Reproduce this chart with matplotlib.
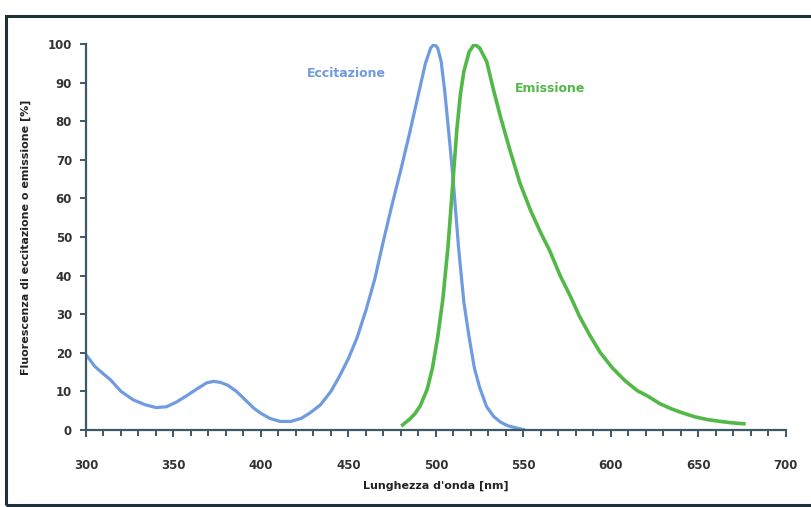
import matplotlib.pyplot as plt
from matplotlib.patches import Rectangle
from matplotlib.ticker import MultipleLocator

# wavelengths (nm) and intensity (%)
exc_nm = [300, 305, 310, 314, 320, 327, 334, 340, 346, 352, 358, 364, 369, 373,
          377, 381, 386, 391, 396, 400, 405, 411, 417, 423, 428, 434, 440, 445,
          450, 455, 460, 465, 470, 475, 480, 485, 490, 494, 497, 499, 501, 503,
          505, 508, 510, 513, 516, 519, 522, 525, 529, 533, 537, 541, 546, 550]
exc_val = [19.5, 16.5, 14.5, 13.0, 10.0, 7.8, 6.5, 5.8, 6.0, 7.3, 9.0, 10.8, 12.2, 12.6,
           12.3, 11.6, 10.0, 7.8, 5.6, 4.3, 3.0, 2.2, 2.2, 3.0, 4.4, 6.5, 10.0, 14.0,
           18.5, 24.0, 31.0, 39.0, 49.0, 58.5, 67.5, 77.0, 87.0, 95.0, 99.0, 100.0, 99.0, 95.5,
           88.0, 74.0, 64.0, 47.0, 33.0, 24.0, 16.0, 11.0, 6.0, 3.5, 2.0, 1.1, 0.5, 0.1]

emi_nm = [481, 485, 488, 491, 495, 498, 501, 504, 507, 510, 512, 514, 516, 519, 522, 525,
          529, 533, 537, 542, 548, 554, 560, 565, 571, 577, 582, 588, 594, 601,
          608, 615, 621, 628, 635, 641, 648, 655, 661, 668, 676]
emi_val = [1.3, 2.8, 4.2, 6.2, 10.5, 16.0, 24.0, 34.0, 48.0, 66.0, 78.0, 87.0, 93.0, 98.0,
           100.0, 99.0, 95.5, 88.0, 81.0, 73.0, 64.0, 57.0, 51.0, 46.5, 40.0, 34.5, 29.5,
           24.5, 20.0, 16.0, 12.8, 10.2, 8.8, 6.8, 5.4, 4.4, 3.4, 2.7, 2.3, 1.9, 1.6]

x_ticks = [300, 350, 400, 450, 500, 550, 600, 650, 700]
y_ticks = [0, 10, 20, 30, 40, 50, 60, 70, 80, 90, 100]

blue = "#6f9be0"
green = "#52b848"
axis_col = "#3c5a66"

fig = plt.figure(figsize=(8.11, 5.07), dpi=100)
fig.patches.append(Rectangle((0.008, 0.004), 0.995, 0.964, transform=fig.transFigure,
                             fill=False, edgecolor="#1f3038", linewidth=2.2))

ax = fig.add_axes([0.106, 0.152, 0.863, 0.761])
ax.plot(exc_nm, exc_val, color=blue, lw=2.3)
ax.plot(emi_nm, emi_val, color=green, lw=2.6)

ax.set_xlim(300, 700)
ax.set_ylim(0, 100)
ax.set_xticks(x_ticks)
ax.set_yticks(y_ticks)
ax.xaxis.set_minor_locator(MultipleLocator(10))

for s in ["top", "right"]:
    ax.spines[s].set_visible(False)
for s in ["left", "bottom"]:
    ax.spines[s].set_color(axis_col)
    ax.spines[s].set_linewidth(1.6)

ax.tick_params(axis="x", which="major", direction="out", length=5, width=1.4,
               color=axis_col, pad=16, labelsize=8.5)
ax.tick_params(axis="x", which="minor", direction="out", length=4, width=1.4,
               color=axis_col)
ax.tick_params(axis="y", direction="out", length=4, width=1.4, color=axis_col,
               pad=6, labelsize=8.5)
for lab in ax.get_xticklabels() + ax.get_yticklabels():
    lab.set_fontweight("bold")
    lab.set_color("#333333")

ax.set_xlabel("Lunghezza d'onda [nm]", fontsize=8, fontweight="bold", color="#222222",
              labelpad=6)
ax.set_ylabel("Fluorescenza di eccitazione o emissione [%]", fontsize=8,
              fontweight="bold", color="#222222", labelpad=12)

ax.text(449, 92.5, "Eccitazione", color=blue, fontsize=9, fontweight="bold",
        ha="center", va="center")
ax.text(565, 88.5, "Emissione", color=green, fontsize=9, fontweight="bold",
        ha="center", va="center")

fig.savefig("out.png", dpi=100)
